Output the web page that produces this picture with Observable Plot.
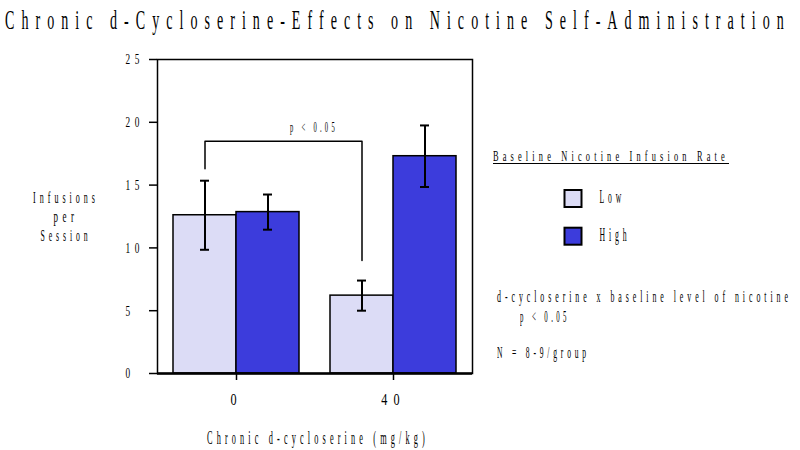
<!DOCTYPE html>
<html><head><meta charset="utf-8">
<script src="https://cdn.jsdelivr.net/npm/d3@7"></script>
<script src="https://cdn.jsdelivr.net/npm/@observablehq/plot@0.6"></script>
<style>
html,body{margin:0;padding:0;background:#fff;}
body{width:800px;height:450px;overflow:hidden;font-family:"Liberation Serif",serif;}
svg{display:block;}
svg text{letter-spacing:0.5em;fill:#000;opacity:0.999;}
</style></head><body>
<svg id="title" width="800" height="40"><text x="5" y="29" font-size="28" font-family="Liberation Serif" data-w="786">Chronic d-Cycloserine-Effects on Nicotine Self-Administration</text></svg>
<div id="chart"></div>
<script>
// ---- data ----
const doses = ["0", "40"];
const levels = ["Low", "High"];
const lowMean = [12.6, 6.2];
const lowErr = [2.75, 1.2];
const highMean = [12.85, 17.3];
const highErr = [1.4, 2.45];
const levelColors = ["#dcdcf6", "#3c3cdc"];
const yTicks = [0, 5, 10, 15, 20, 25];
const bracketDose = ["0", "0", "40", "40"];
const bracketY = [16.3, 18.5, 18.5, 9.0];

const rows = doses.flatMap((d, i) => [
  {dose: d, level: "Low", mean: lowMean[i], err: lowErr[i]},
  {dose: d, level: "High", mean: highMean[i], err: highErr[i]}
]);
const low = rows.filter(r => r.level === "Low");
const high = rows.filter(r => r.level === "High");
const bracket = bracketDose.map((d, i) => ({dose: d, y: bracketY[i]}));

// ---- layout ----
const W = 800, H = 410, ML = 157, MR = 328, MT = 19, MB = 77, PI = 0.2, PO = 0.1;
const step = (W - ML - MR) / (doses.length - PI + 2 * PO);
const bw = step * (1 - PI);
const cap = 9;

const errMarks = (data, dx) => [
  Plot.ruleX(data, {x: "dose", y1: d => d.mean - d.err, y2: d => d.mean + d.err, dx, stroke: "black", strokeWidth: 2}),
  Plot.tickY(data, {x: "dose", y: d => d.mean + d.err, dx, insetLeft: bw / 2 - cap / 2, insetRight: bw / 2 - cap / 2, stroke: "black", strokeWidth: 2}),
  Plot.tickY(data, {x: "dose", y: d => d.mean - d.err, dx, insetLeft: bw / 2 - cap / 2, insetRight: bw / 2 - cap / 2, stroke: "black", strokeWidth: 2})
];

const chart = Plot.plot({
  width: W, height: H,
  marginLeft: ML, marginRight: MR, marginTop: MT, marginBottom: MB,
  style: {fontFamily: "Liberation Serif", background: "white", color: "black"},
  x: {type: "band", domain: doses, paddingInner: PI, paddingOuter: PO},
  y: {domain: [0, 25]},
  color: {domain: levels, range: levelColors},
  marks: [
    Plot.barY(low, {x: "dose", y: "mean", fill: "level", stroke: "black", strokeWidth: 1.5, insetRight: bw / 2}),
    Plot.barY(high, {x: "dose", y: "mean", fill: "level", stroke: "black", strokeWidth: 1.5, insetLeft: bw / 2}),
    ...errMarks(low, -bw / 4),
    ...errMarks(high, bw / 4),
    Plot.line(bracket, {x: "dose", y: "y", dx: -bw / 4, stroke: "black", strokeWidth: 1.5}),
    Plot.frame({stroke: "black", strokeWidth: 1.5}),
    Plot.ruleY([0], {stroke: "black", strokeWidth: 2.5}),
    Plot.axisY({ticks: yTicks, tickSize: 8, tickPadding: 24, textAnchor: "start", fontSize: 15, label: null, strokeWidth: 1.5}),
    Plot.axisX({tickSize: 7, tickPadding: 12, fontSize: 17, label: null, strokeWidth: 1.5})
  ]
});
document.getElementById("chart").append(chart);

// ---- annotations (svg coords = page - 40 in y) ----
const svg = d3.select(chart);
const ann = svg.append("g").attr("font-family", "Liberation Serif").attr("fill", "black");
function addText(x, y, str, size, w, anchor = "start") {
  return ann.append("text").attr("x", x).attr("y", y).attr("font-size", size)
    .attr("text-anchor", anchor).attr("data-w", w).text(str);
}
// y-axis title
addText(66, 163, "Infusions", 16, 66, "middle");
addText(66, 182, "per", 16, 25, "middle");
addText(66, 201.5, "Session", 16, 51, "middle");
// bracket label
addText(314, 92, "p < 0.05", 15, 48, "middle");
// legend
addText(493, 121, "Baseline Nicotine Infusion Rate", 14.5, 236);
ann.append("line").attr("x1", 493).attr("x2", 729).attr("y1", 123.5).attr("y2", 123.5).attr("stroke", "black").attr("stroke-width", 1);
levels.forEach((lv, i) => {
  const y0 = 150 + i * 37.7;
  ann.append("rect").attr("x", 564.5).attr("y", y0).attr("width", 17).attr("height", 17)
    .attr("fill", levelColors[i]).attr("stroke", "black").attr("stroke-width", 2);
  addText(599.5, y0 + 13.5, lv, 18, lv === "Low" ? 25.5 : 31);
});
addText(497, 262.5, "d-cycloserine x baseline level of nicotine", 17.5, 295);
addText(520, 282.5, "p < 0.05", 17.5, 50);
addText(497, 318, "N = 8-9/group", 17.5, 93);
// x-axis title
addText(207, 404, "Chronic d-cycloserine (mg/kg)", 19, 222);

// ---- condensed lettering: horizontal scale about each text's anchor ----
const NS = "http://www.w3.org/2000/svg";
function condenseAll(root) {
  Array.from(root.querySelectorAll("text")).forEach(t => {
    const bb = t.getBBox();
    if (!bb.width) return;
    let f;
    if (t.hasAttribute("data-w")) f = +t.getAttribute("data-w") / bb.width;
    else {
      const lab = t.closest("[aria-label]");
      const al = lab ? lab.getAttribute("aria-label") : "";
      f = al.startsWith("x") ? 0.72 : 0.62;
    }
    const anchor = getComputedStyle(t).textAnchor;
    let ax = anchor === "middle" ? bb.x + bb.width / 2 : anchor === "end" ? bb.x + bb.width : bb.x;
    const tr = t.transform && t.transform.baseVal.consolidate();
    if (tr) ax = tr.matrix.a * ax + tr.matrix.e;
    const g = document.createElementNS(NS, "g");
    g.setAttribute("transform", `translate(${ax.toFixed(2)},0) scale(${f.toFixed(4)},1) translate(${(-ax).toFixed(2)},0)`);
    t.parentNode.insertBefore(g, t);
    g.appendChild(t);
  });
}
condenseAll(document.getElementById("title"));
condenseAll(chart);
</script>
</body></html>
